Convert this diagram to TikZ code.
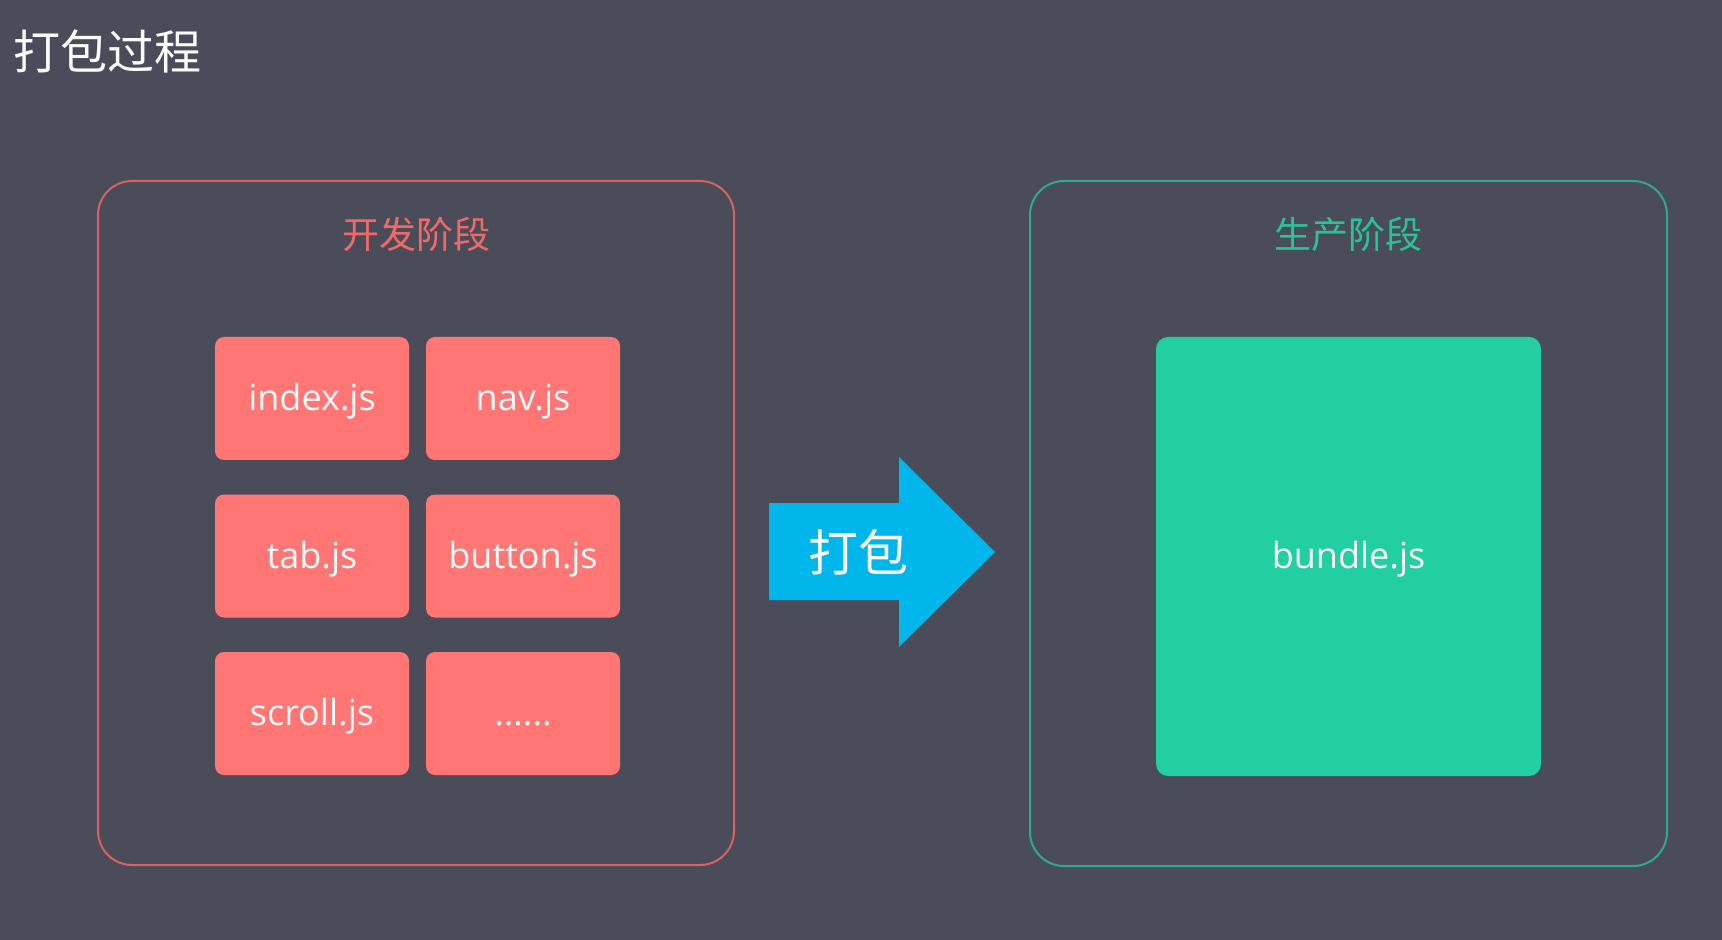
\documentclass[tikz,border=0pt]{standalone}
\usepackage{fontspec}
\setmainfont{Open Sans}
\newfontfamily\cjk{Noto Sans CJK SC}
\definecolor{bg}{RGB}{74,77,89}
\definecolor{devred}{RGB}{255,118,117}
\definecolor{devline}{RGB}{214,98,98}
\definecolor{devtext}{RGB}{242,106,104}
\definecolor{prodgreen}{RGB}{34,207,161}
\definecolor{prodline}{RGB}{48,170,140}
\definecolor{prodtext}{RGB}{40,196,152}
\definecolor{arrowblue}{RGB}{0,182,234}
\definecolor{txt}{RGB}{250,250,250}
\tikzset{
  stage/.style={draw, line width=1pt, rounded corners=17pt, minimum width=#1, inner sep=0pt},
  filelabel/.style={text=txt, font=\fontsize{18}{21}\selectfont, text height=14pt, text depth=1.8pt},
  filebox/.style={filelabel, fill=devred, rounded corners=4.5pt, minimum width=97pt, minimum height=61.5pt, inner sep=0pt},
  stagetitle/.style={font=\cjk\fontsize{18.5}{22}\selectfont, inner sep=0pt}
}
\begin{document}
\begin{tikzpicture}[x=0.5pt,y=-0.5pt]
\fill[bg] (0,0) rectangle (1722,940);
\useasboundingbox (0,0) rectangle (1722,940);
% title
\node[text=txt, font=\cjk\fontsize{23.5}{28}\selectfont, inner sep=0pt] (title) at (107,51) {打包过程};
% stage frames
\node[stage=318pt, draw=devline, minimum height=342pt] (dev) at (416,523) {};
\node[stage=318.5pt, draw=prodline, minimum height=342.5pt] (prod) at (1348.5,523.5) {};
\node[stagetitle, text=devtext] (devtitle) at (416,234) {开发阶段};
\node[stagetitle, text=prodtext] (prodtitle) at (1348.5,234) {生产阶段};
% file boxes
\node[filebox] (index) at (312,398.5) {index.js};
\node[filebox] (nav) at (523,398.5) {nav.js};
\node[filebox] (tab) at (312,556) {tab.js};
\node[filebox] (button) at (523,556) {button.js};
\node[filebox] (scroll) at (312,713.5) {scroll.js};
\node[filebox] (more) at (523,713.5) {......};
% bundle
\node[filelabel, fill=prodgreen, rounded corners=6pt, minimum width=192.5pt, minimum height=219.5pt, inner sep=0pt] (bundle) at (1348.5,556.5) {bundle.js};
% arrow
\fill[arrowblue] (769,503) -- (899,503) -- (899,457) -- (995,552) -- (899,647) -- (899,600) -- (769,600) -- cycle;
\node[text=txt, font=\cjk\fontsize{25}{30}\selectfont, inner sep=0pt] (pack) at (858,552) {打包};
\end{tikzpicture}
\end{document}
